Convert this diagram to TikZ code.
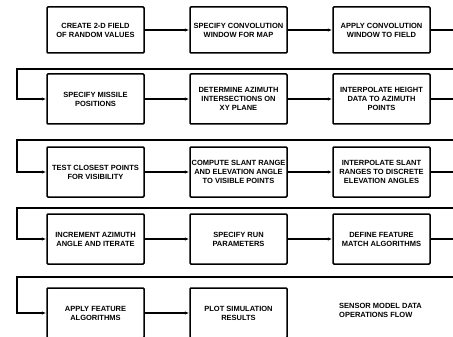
\documentclass[tikz,border=0pt]{standalone}
\usepackage{fontspec}
\setmainfont{Liberation Sans}
\usetikzlibrary{arrows.meta}
\begin{document}
\begin{tikzpicture}[x=1pt,y=-1pt,
  box/.style={draw, line width=1.5pt, minimum width=97pt, minimum height=#1,
    align=center, inner sep=1pt, rounded corners=1pt,
    font=\fontsize{7.5}{9}\selectfont\bfseries},
  box/.default=50pt,
  link/.style={line width=1.1pt},
  arr/.style={link, -{Latex[length=4.5pt,width=3.5pt]}},
  caption/.style={anchor=west, align=left, inner sep=0pt,
    font=\fontsize{7.5}{9}\selectfont\bfseries}]
\useasboundingbox (0,0) rectangle (453,337);
\clip (0,0) rectangle (453,337);
% row 1
\node[box=46pt] (b11) at (95.5,30) {CREATE 2-D FIELD\\OF RANDOM VALUES};
\node[box=46pt] (b12) at (238.5,30) {SPECIFY CONVOLUTION\\WINDOW FOR MAP};
\node[box=46pt] (b13) at (381.5,30) {APPLY CONVOLUTION\\WINDOW TO FIELD};
% row 2
\node[box] (b21) at (95.5,99) {SPECIFY MISSILE\\POSITIONS};
\node[box] (b22) at (238.5,99) {DETERMINE AZIMUTH\\INTERSECTIONS ON\\XY PLANE};
\node[box] (b23) at (381.5,99) {INTERPOLATE HEIGHT\\DATA TO AZIMUTH\\POINTS};
% row 3
\node[box] (b31) at (95.5,172) {TEST CLOSEST POINTS\\FOR VISIBILITY};
\node[box] (b32) at (238.5,172) {COMPUTE SLANT RANGE\\AND ELEVATION ANGLE\\TO VISIBLE POINTS};
\node[box] (b33) at (381.5,172) {INTERPOLATE SLANT\\RANGES TO DISCRETE\\ELEVATION ANGLES};
% row 4
\node[box] (b41) at (95.5,239) {INCREMENT AZIMUTH\\ANGLE AND ITERATE};
\node[box] (b42) at (238.5,239) {SPECIFY RUN\\PARAMETERS};
\node[box] (b43) at (381.5,239) {DEFINE FEATURE\\MATCH ALGORITHMS};
% row 5
\node[box] (b51) at (95.5,313) {APPLY FEATURE\\ALGORITHMS};
\node[box] (b52) at (238.5,313) {PLOT SIMULATION\\RESULTS};
\node[caption] (cap) at (339,310) {SENSOR MODEL DATA\\OPERATIONS FLOW};
% edge coordinates
\coordinate (e1) at (453,30);
\coordinate (e2) at (453,99);
\coordinate (e3) at (453,172);
\coordinate (e4) at (453,239);
\coordinate (r1) at (453,69);  \coordinate (l1) at (17,69);
\coordinate (r2) at (453,140); \coordinate (l2) at (17,140);
\coordinate (r3) at (453,208); \coordinate (l3) at (17,208);
\coordinate (r4) at (453,277); \coordinate (l4) at (17,277);
% arrows within rows
\draw[arr] (b11) -- (b12);
\draw[arr] (b12) -- (b13);
\draw[arr] (b21) -- (b22);
\draw[arr] (b22) -- (b23);
\draw[arr] (b31) -- (b32);
\draw[arr] (b32) -- (b33);
\draw[arr] (b41) -- (b42);
\draw[arr] (b42) -- (b43);
\draw[arr] (b51) -- (b52);
% lines leaving to the right
\draw[link] (b13.east) -- (e1);
\draw[link] (b23.east) -- (e2);
\draw[link] (b33.east) -- (e3);
\draw[link] (b43.east) -- (e4);
% return lines
\draw[arr] (r1) -- (l1) |- (b21.west);
\draw[arr] (r2) -- (l2) |- (b31.west);
\draw[arr] (r3) -- (l3) |- (b41.west);
\draw[arr] (r4) -- (l4) |- (b51.west);
\end{tikzpicture}
\end{document}
